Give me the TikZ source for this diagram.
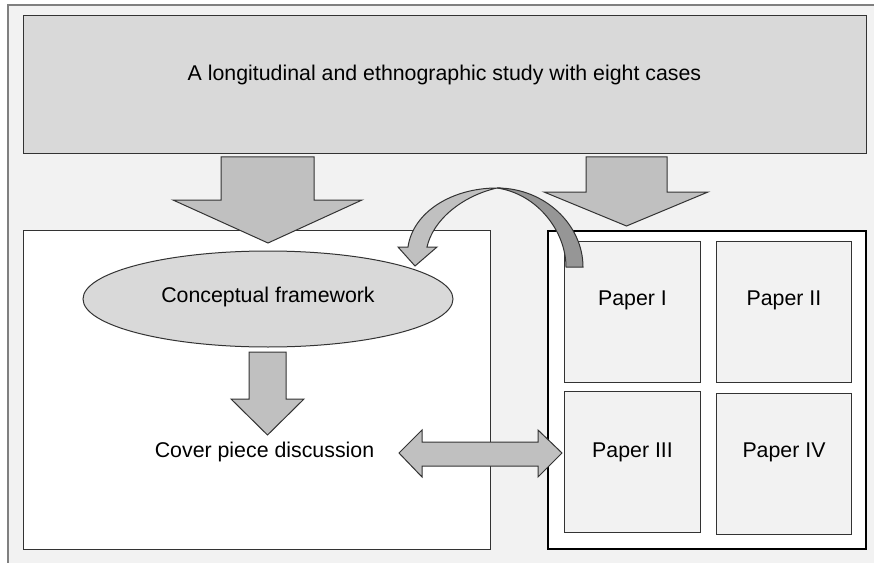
\documentclass[tikz,border=0pt]{standalone}
\usepackage{fontspec}
\setmainfont{Liberation Sans}
\usetikzlibrary{shapes.geometric}
\definecolor{bgfill}{HTML}{F2F2F2}
\definecolor{boxfill}{HTML}{D9D9D9}
\definecolor{arrowfill}{HTML}{C0C0C0}
\definecolor{arrowdark}{HTML}{969696}
\definecolor{edge}{HTML}{333333}
\definecolor{framegray}{HTML}{808080}
\begin{document}
\begin{tikzpicture}[x=0.75pt,y=-0.75pt,
  every node/.style={font=\fontsize{16}{19}\selectfont, inner sep=0pt, outer sep=0pt},
  panel/.style={draw=edge, line width=0.75pt, rectangle},
  paperbox/.style={panel, fill=bgfill, minimum width=101.5pt, minimum height=105.75pt},
  blockarrow/.style={draw=edge, line width=0.75pt, fill=arrowfill, line join=miter},
  darkarrow/.style={blockarrow, fill=arrowdark},
]
\useasboundingbox (0,0) rectangle (874,563);
% page frame
\fill[bgfill] (8,5) rectangle (874,563);
\draw[framegray, line width=1.5pt] (8,563) -- (8,5) -- (874,5);

% study header
\node[panel, fill=boxfill, minimum width=632.25pt, minimum height=103.5pt] (study) at (444.5,85) {};
\node (studytext) at (444.5,75) {A longitudinal and ethnographic study with eight cases};

% cover piece panel
\node[panel, fill=white, minimum width=350.25pt, minimum height=239.25pt] (cover) at (256.5,389.5) {};
% papers panel
\node[draw=black, line width=1.5pt, fill=white, minimum width=238.5pt, minimum height=238.5pt] (papers) at (707,390) {};

\node[paperbox] (p1) at (632.5,311.5) {};
\node[paperbox] (p2) at (784,311.5) {};
\node[paperbox] (p3) at (632.5,461.5) {};
\node[paperbox] (p4) at (784,463.5) {};
\node (p1text) at (632.5,300) {Paper I};
\node (p2text) at (784,300) {Paper II};
\node (p3text) at (632.5,452) {Paper III};
\node (p4text) at (784,452) {Paper IV};

% conceptual framework
\node[ellipse, draw=edge, line width=0.75pt, fill=boxfill, minimum width=277.5pt, minimum height=72pt] (frame) at (268,299) {};
\node (frametext) at (268,297) {Conceptual framework};
\node (discussion) at (264.5,452) {Cover piece discussion};

% block arrows
\draw[blockarrow] (221,157) -- (314,157) -- (314,200) -- (362,200) -- (268,243) -- (173,200) -- (221,200) -- cycle;
\draw[blockarrow] (586,157) -- (667,157) -- (667,192) -- (708,192) -- (626.5,226) -- (544,192) -- (586,192) -- cycle;
\draw[blockarrow] (249,352) -- (286,352) -- (286,399) -- (304,399) -- (267.5,435) -- (231,399) -- (249,399) -- cycle;
\draw[blockarrow] (399,453) -- (422,430) -- (422,442) -- (538,442) -- (538,430) -- (562,453) -- (538,477) -- (538,466) -- (422,466) -- (422,477) -- cycle;

% curved arrow from the papers back to the framework
\draw[darkarrow] (497,188) .. controls (545,188) and (583,225) .. (583,267) -- (566,267) .. controls (566,232) and (538,194) .. (497,188) -- cycle;
\draw[blockarrow] (497,188) .. controls (452,188) and (413,212) .. (408,247) -- (398,247) -- (415,266) -- (437,247) -- (427,247) .. controls (433,220) and (462,196) .. (497,188) -- cycle;
\end{tikzpicture}
\end{document}
